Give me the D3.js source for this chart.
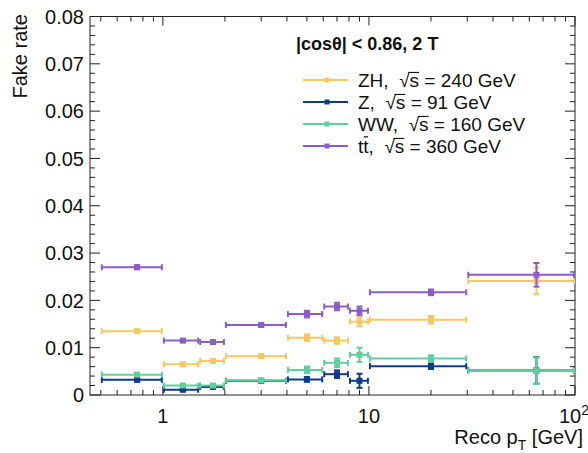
<!DOCTYPE html>
<html>
<head>
<meta charset="utf-8">
<script src="https://cdn.jsdelivr.net/npm/d3@7"></script>
<style>
  html, body { margin: 0; padding: 0; background: #fff; }
  svg { display: block; font-family: "Liberation Sans", Arial, Helvetica, sans-serif; }
</style>
</head>
<body>
<svg id="chart" width="588" height="453"></svg>
<script>
// Reco pT bins (GeV)
const binEdges   = [0.5, 1, 1.5, 2, 4, 6, 8, 10, 30, 100];
const binCenters = [0.75, 1.25, 1.75, 3, 5, 7, 9, 20, 65];

// Fake rate per bin and its uncertainty, one array per sample
const zhRate  = [0.0135, 0.0065, 0.0072, 0.0082, 0.0121, 0.0115, 0.0155, 0.0159, 0.0241];
const zhErr   = [0.0003, 0.0003, 0.0004, 0.0003, 0.0007, 0.0007, 0.0010, 0.0008, 0.0028];
const zRate   = [0.0032, 0.0011, 0.0017, 0.0030, 0.0033, 0.0044, 0.0030, 0.0061, 0.0052];
const zErr    = [0.0003, 0.0002, 0.0002, 0.0002, 0.0005, 0.0008, 0.0015, 0.0006, 0.0028];
const wwRate  = [0.0043, 0.0020, 0.0020, 0.0031, 0.0053, 0.0068, 0.0085, 0.0077, 0.0051];
const wwErr   = [0.0003, 0.0002, 0.0002, 0.0002, 0.0007, 0.0009, 0.0015, 0.0007, 0.0028];
const ttRate  = [0.0270, 0.0115, 0.0112, 0.0148, 0.0171, 0.0187, 0.0178, 0.0217, 0.0254];
const ttErr   = [0.0004, 0.0003, 0.0003, 0.0003, 0.0007, 0.0008, 0.0009, 0.0006, 0.0025];

const seriesNames  = ["ZH", "Z", "WW", "tt"];
const seriesEnergy = ["240", "91", "160", "360"];
const seriesColors = ["#f8c762", "#0d3b8c", "#5fcf9d", "#8c5ccd"];

const yTicks = [0, 0.01, 0.02, 0.03, 0.04, 0.05, 0.06, 0.07, 0.08];

const series = [
  { rate: zhRate, err: zhErr },
  { rate: zRate,  err: zErr  },
  { rate: wwRate, err: wwErr },
  { rate: ttRate, err: ttErr }
].map((s, i) => ({ ...s, name: seriesNames[i], energy: seriesEnergy[i], color: seriesColors[i] }));

const svg = d3.select("#chart");
const L = 90, R = 575, T = 16.5, B = 395;

const x = d3.scaleLog().domain([0.443, 100]).range([L, R]);
const y = d3.scaleLinear().domain([0, 0.08]).range([B, T]);

const axisColor = "#222";

// frame
svg.append("rect").attr("x", L).attr("y", T).attr("width", R - L).attr("height", B - T)
  .attr("fill", "none").attr("stroke", axisColor).attr("stroke-width", 1);

// x ticks (log): majors at decades, minors at 2..9
const xMinor = [], xMajor = [1, 10, 100];
[0.1, 1, 10].forEach(d => { for (let k = 2; k <= 9; k++) { const v = d * k; if (v >= 0.443 && v < 100) xMinor.push(v); } });
const g = svg.append("g").attr("stroke", axisColor).attr("stroke-width", 1);
xMinor.forEach(v => {
  g.append("line").attr("x1", x(v)).attr("x2", x(v)).attr("y1", B).attr("y2", B - 5);
  g.append("line").attr("x1", x(v)).attr("x2", x(v)).attr("y1", T).attr("y2", T + 5);
});
xMajor.forEach(v => {
  g.append("line").attr("x1", x(v)).attr("x2", x(v)).attr("y1", B).attr("y2", B - 9);
  g.append("line").attr("x1", x(v)).attr("x2", x(v)).attr("y1", T).attr("y2", T + 9);
});

// y ticks: major every 0.01, minor every 0.002
d3.range(0, 0.0801, 0.002).forEach((v, i) => {
  const len = (i % 5 === 0) ? 10 : 5;
  g.append("line").attr("x1", L).attr("x2", L + len).attr("y1", y(v)).attr("y2", y(v));
  g.append("line").attr("x1", R).attr("x2", R - len).attr("y1", y(v)).attr("y2", y(v));
});

// y tick labels
svg.append("g").selectAll("text").data(yTicks).join("text")
  .attr("x", 84).attr("y", d => y(d)).attr("dy", "0.36em")
  .attr("text-anchor", "end").attr("font-size", 20).attr("fill", "#111")
  .text(d => d === 0 ? "0" : d3.format(".2f")(d));

// x tick labels
const xl = svg.append("g").attr("font-size", 20).attr("fill", "#111");
xl.append("text").attr("x", x(1)).attr("y", 423).attr("text-anchor", "middle").text("1");
xl.append("text").attr("x", x(10)).attr("y", 423).attr("text-anchor", "middle").text("10");
const t100 = xl.append("text").attr("x", x(100) - 1).attr("y", 423).attr("text-anchor", "middle");
t100.append("tspan").text("10");
t100.append("tspan").attr("font-size", 14).attr("dy", -8).text("2");

// axis titles
const xt = svg.append("text").attr("x", 583).attr("y", 444).attr("text-anchor", "end")
  .attr("font-size", 20).attr("fill", "#111");
xt.append("tspan").text("Reco p");
xt.append("tspan").attr("font-size", 14).attr("dy", 6).text("T");
xt.append("tspan").attr("dy", -6).text(" [GeV]");

svg.append("text").attr("transform", "translate(27,14) rotate(-90)")
  .attr("text-anchor", "end").attr("font-size", 20).attr("fill", "#111").text("Fake rate");

// data: horizontal bin-width bars, vertical error bars, markers
const capH = 3, capW = 3;
series.forEach(s => {
  const gs = svg.append("g").attr("stroke", s.color).attr("stroke-width", 2).attr("fill", s.color);
  s.rate.forEach((v, i) => {
    const x0 = x(binEdges[i]), x1 = x(binEdges[i + 1]), xc = x(binCenters[i]);
    const yv = y(v), ylo = y(v - s.err[i]), yhi = y(v + s.err[i]);
    gs.append("line").attr("x1", x0 + 1).attr("x2", x1 - 1).attr("y1", yv).attr("y2", yv);
    gs.append("line").attr("x1", x0 + 1).attr("x2", x0 + 1).attr("y1", yv - capH).attr("y2", yv + capH);
    gs.append("line").attr("x1", x1 - 1).attr("x2", x1 - 1).attr("y1", yv - capH).attr("y2", yv + capH);
    gs.append("line").attr("x1", xc).attr("x2", xc).attr("y1", ylo).attr("y2", yhi);
    gs.append("line").attr("x1", xc - capW).attr("x2", xc + capW).attr("y1", ylo).attr("y2", ylo);
    gs.append("line").attr("x1", xc - capW).attr("x2", xc + capW).attr("y1", yhi).attr("y2", yhi);
    gs.append("rect").attr("x", xc - 3).attr("y", yv - 3).attr("width", 6).attr("height", 6).attr("stroke", "none");
  });
});

// legend
svg.append("text").attr("x", 296).attr("y", 50).attr("font-size", 18).attr("font-weight", "bold")
  .attr("fill", "#111").text("|cos\u03b8| < 0.86, 2 T");

const legRows = [80, 102, 124, 146];
const legFont = 19;
series.forEach((s, i) => {
  const ly = legRows[i];
  svg.append("line").attr("x1", 303).attr("x2", 348).attr("y1", ly).attr("y2", ly)
    .attr("stroke", s.color).attr("stroke-width", 2);
  svg.append("rect").attr("x", 324.5).attr("y", ly - 2.5).attr("width", 5).attr("height", 5).attr("fill", s.color);
  const label = s.name + ",\u00a0\u00a0\u221As = " + s.energy + " GeV";
  const baseline = ly + 0.36 * legFont;
  const t = svg.append("text").attr("x", 358).attr("y", baseline)
    .attr("font-size", legFont).attr("fill", "#111").text(label);
  const node = t.node();
  // vinculum over "s" joined to the radical sign
  const iRoot = label.indexOf("\u221A");
  const eRoot = node.getExtentOfChar(iRoot);
  const eS = node.getExtentOfChar(iRoot + 1);
  svg.append("line").attr("x1", eRoot.x + eRoot.width - 1.2).attr("x2", eS.x + eS.width)
    .attr("y1", baseline - 14.4).attr("y2", baseline - 14.4)
    .attr("stroke", "#111").attr("stroke-width", 1.1);
  if (s.name === "tt") {
    // bar over the second t (antitop)
    const e2 = node.getExtentOfChar(1);
    svg.append("line").attr("x1", e2.x + 0.5).attr("x2", e2.x + e2.width - 0.5)
      .attr("y1", baseline - 16).attr("y2", baseline - 16)
      .attr("stroke", "#111").attr("stroke-width", 1.2);
  }
});
</script>
</body>
</html>
